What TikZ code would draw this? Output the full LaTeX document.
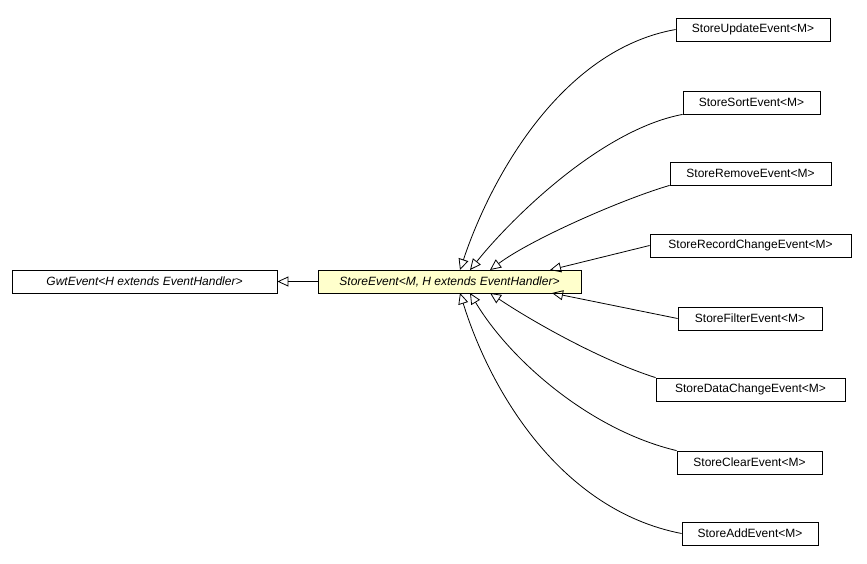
\documentclass[tikz,border=0pt]{standalone}
\usepackage{fontspec}
\setmainfont{Liberation Sans}
\usetikzlibrary{arrows.meta}
\begin{document}
\begin{tikzpicture}[x=1pt,y=-1pt,
  box/.style={draw,line width=0.8pt,minimum height=23pt,inner sep=0pt,font=\fontsize{12}{14}\selectfont},
  inh/.style={-{Triangle[open,length=11pt,width=10pt]},line width=0.8pt}]
\useasboundingbox (0,0) rectangle (867,563);
\node[box,minimum width=265pt,font=\fontsize{12}{14}\selectfont\itshape] (gwt) at (144.5,281.5) {GwtEvent<H extends EventHandler>};
\node[box,minimum width=263pt,fill={rgb,255:red,255;green,255;blue,204},font=\fontsize{12}{14}\selectfont\itshape] (se) at (449.5,281.5) {StoreEvent<M, H extends EventHandler>};
\node[box,minimum width=154pt] (up) at (753,29.5) {StoreUpdateEvent<M>};
\node[box,minimum width=137pt] (so) at (751.5,102.5) {StoreSortEvent<M>};
\node[box,minimum width=161pt] (re) at (750.5,173.5) {StoreRemoveEvent<M>};
\node[box,minimum width=201pt] (rc) at (750.5,245.5) {StoreRecordChangeEvent<M>};
\node[box,minimum width=144pt] (fi) at (750,318.5) {StoreFilterEvent<M>};
\node[box,minimum width=189pt] (dc) at (750.5,389.5) {StoreDataChangeEvent<M>};
\node[box,minimum width=145pt] (cl) at (749.5,462.5) {StoreClearEvent<M>};
\node[box,minimum width=136pt] (ad) at (750,533.5) {StoreAddEvent<M>};
\coordinate (t1) at (460,270); \coordinate (t2) at (470,270);
\coordinate (t3) at (490,270); \coordinate (t4) at (550,270);
\coordinate (b4) at (552,293); \coordinate (b3) at (490,293);
\coordinate (b2) at (470,293); \coordinate (b1) at (460,293);
\draw[inh] (gwt.east -| se.west) -- (gwt.east);
\draw[inh] (up.west) .. controls (560,50) and (490,180) .. (t1);
\draw[inh] (so.south west) .. controls (600,130) and (510,220) .. (t2);
\draw[inh] (re.south west) .. controls (620,200) and (530,240) .. (t3);
\draw[inh] (rc.west) -- (t4);
\draw[inh] (fi.west) -- (b4);
\draw[inh] (dc.north west) .. controls (600,360) and (530,320) .. (b3);
\draw[inh] (cl.north west) .. controls (590,430) and (510,360) .. (b2);
\draw[inh] (ad.west) .. controls (560,510) and (490,390) .. (b1);
\end{tikzpicture}
\end{document}
